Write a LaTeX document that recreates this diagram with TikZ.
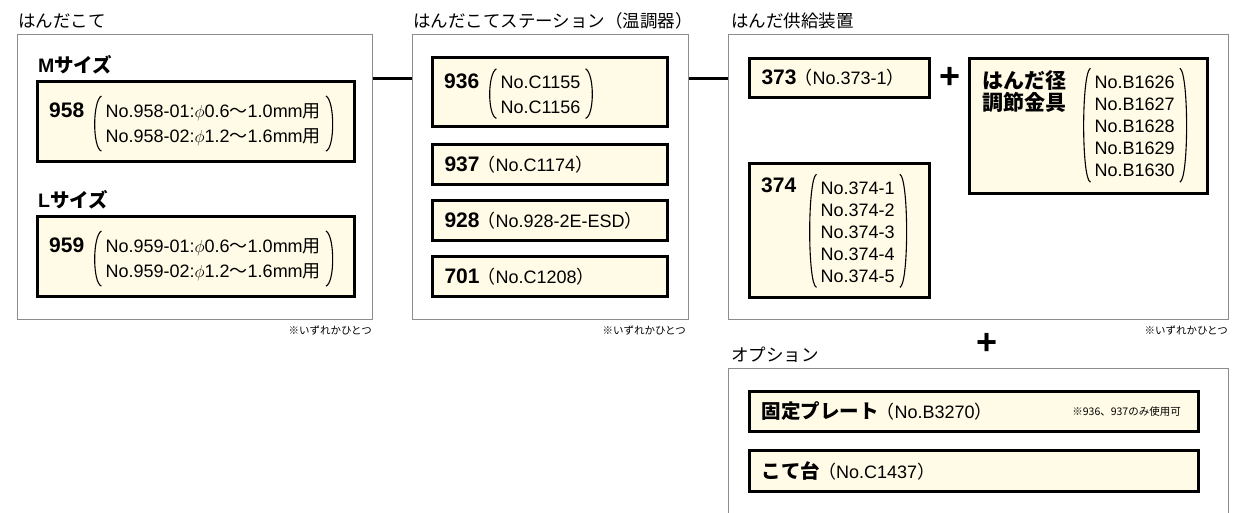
\documentclass[tikz,border=0pt]{standalone}
\usepackage{fontspec}
\setmainfont{Liberation Sans}
\newfontfamily\jp{Noto Sans CJK JP}
\usetikzlibrary{positioning}

\definecolor{cream}{HTML}{FFFBE6}
\definecolor{framegray}{HTML}{8C8C8C}

\newcommand{\jt}[1]{{\jp #1}}
\newcommand{\pnum}[1]{{\fontsize{21}{21}\selectfont\bfseries #1}\kern-2pt}
% round brackets drawn round a list node
\newcommand{\parens}[1]{%
  \draw[paren] ([shift={(-4pt,7pt)}]#1.north west)
    .. controls ([shift={(-13pt,2pt)}]#1.north west) and ([shift={(-13pt,-2pt)}]#1.south west)
    .. ([shift={(-4pt,-5pt)}]#1.south west);
  \draw[paren] ([shift={(5pt,7pt)}]#1.north east)
    .. controls ([shift={(14pt,2pt)}]#1.north east) and ([shift={(14pt,-2pt)}]#1.south east)
    .. ([shift={(5pt,-5pt)}]#1.south east);}

\tikzset{
  panel/.style={draw=framegray, line width=1pt, anchor=north west, inner sep=0pt},
  item/.style={draw, line width=3pt, fill=cream, anchor=north west, inner xsep=12pt,
    inner ysep=0pt, align=left, font=\fontsize{18}{22}\selectfont},
  title/.style={inner sep=0pt, font=\fontsize{17.5}{20}\selectfont\jp},
  head/.style={inner sep=0pt, font=\fontsize{19.5}{22}\selectfont\bfseries},
  num/.style={inner sep=0pt, font=\fontsize{21}{21}\selectfont\bfseries},
  list/.style={inner sep=0pt, align=left, font=\fontsize{18}{#1}\selectfont},
  note/.style={inner sep=0pt, font=\fontsize{10.5}{12}\selectfont\jp},
  paren/.style={line width=1.1pt},
  link/.style={line width=3pt},
  plus/.style={inner sep=0pt, font=\fontsize{36}{36}\selectfont\bfseries},
}

\begin{document}
\begin{tikzpicture}[x=1pt, y=-1pt]
  \useasboundingbox (0,0) rectangle (1233,512);

  % the four frames and their titles
  \node[panel, minimum width=355pt, minimum height=285pt] (solder) at (17,34) {};
  \node[panel, minimum width=276pt, minimum height=285pt] (station) at (412,34) {};
  \node[panel, minimum width=500pt, minimum height=285pt] (feeder) at (728,34) {};
  \node[panel, minimum width=500pt, minimum height=200pt] (option) at (728,368) {};
  \node[title, above right=5pt and 1pt of solder.north west] (tsolder) {はんだこて};
  \node[title, above right=5pt and 1pt of station.north west] (tstation) {はんだこてステーション（温調器）};
  \node[title, above right=5pt and 3pt of feeder.north west] (tfeeder) {はんだ供給装置};
  \node[title, above right=5pt and 3pt of option.north west] (toption) {オプション};
  \node[note, below left=6pt and 1pt of solder.south east] (nsolder) {※いずれかひとつ};
  \node[note, below left=6pt and 3pt of station.south east] (nstation) {※いずれかひとつ};
  \node[note, below left=6pt and 1pt of feeder.south east] (nfeeder) {※いずれかひとつ};

  % soldering irons
  \node[item, minimum width=317pt, minimum height=80pt] (b958) at (36,80) {};
  \node[head, anchor=base west] (hM) at ([shift={(2pt,8pt)}]b958.north west) {M\jt{サイズ}};
  \node[num, anchor=base west] (n958) at ([shift={(13pt,-37pt)}]b958.north west) {958};
  \node[list=25.5pt, anchor=base west] (l958) at ([shift={(21pt,-25.5pt)}]n958.base east)
    {No.958-01:$\phi$0.6\jt{〜}1.0mm\jt{用}\\No.958-02:$\phi$1.2\jt{〜}1.6mm\jt{用}};
  \parens{l958}
  \node[item, minimum width=317pt, minimum height=80pt] (b959) at (36,215) {};
  \node[head, anchor=base west] (hL) at ([shift={(2pt,8pt)}]b959.north west) {L\jt{サイズ}};
  \node[num, anchor=base west] (n959) at ([shift={(13pt,-37pt)}]b959.north west) {959};
  \node[list=25.5pt, anchor=base west] (l959) at ([shift={(21pt,-25.5pt)}]n959.base east)
    {No.959-01:$\phi$0.6\jt{〜}1.0mm\jt{用}\\No.959-02:$\phi$1.2\jt{〜}1.6mm\jt{用}};
  \parens{l959}

  % stations
  \node[item, minimum width=235pt, minimum height=69pt] (b936) at (431,56) {};
  \node[num, anchor=base west] (n936) at ([shift={(13pt,-32.5pt)}]b936.north west) {936};
  \node[list=24.5pt, anchor=base west] (l936) at ([shift={(21pt,-24.5pt)}]n936.base east) {No.C1155\\No.C1156};
  \parens{l936}
  \node[item, minimum width=235pt, minimum height=40pt, text width=211pt, below=15pt of b936] (b937)
    {\pnum{937}\jt{（}No.C1174\jt{）}};
  \node[item, minimum width=235pt, minimum height=40pt, text width=211pt, below=13pt of b937] (b928)
    {\pnum{928}\jt{（}No.928-2E-ESD\jt{）}};
  \node[item, minimum width=235pt, minimum height=40pt, text width=211pt, below=13pt of b928] (b701)
    {\pnum{701}\jt{（}No.C1208\jt{）}};

  % solder feeders
  \node[item, minimum width=180pt, minimum height=39pt, text width=156pt] (b373) at (748,57)
    {\pnum{373}\jt{（}No.373-1\jt{）}};
  \node[item, minimum width=180pt, minimum height=134pt] (b374) at (748,162) {};
  \node[num, anchor=base west] (n374) at ([shift={(13pt,-30pt)}]b374.north west) {374};
  \node[list=22pt, anchor=base west] (l374) at ([shift={(24pt,-90pt)}]n374.base east)
    {No.374-1\\No.374-2\\No.374-3\\No.374-4\\No.374-5};
  \parens{l374}
  \node[item, minimum width=238pt, minimum height=135pt] (bsz) at (968,57) {};
  \node[head, align=left, font=\fontsize{21}{22}\selectfont\bfseries\jp, anchor=base west] (hsz)
    at ([shift={(14pt,-53pt)}]bsz.north west) {はんだ径\\調節金具};
  \node[list=22.2pt, anchor=base west] (lsz) at ([shift={(28pt,-66.8pt)}]hsz.base east)
    {No.B1626\\No.B1627\\No.B1628\\No.B1629\\No.B1630};
  \parens{lsz}
  \path (b373.east) -- node[plus] (plus1) {+} (b373.east -| bsz.west);

  % options
  \node[item, minimum width=449pt, minimum height=40pt, text width=425pt] (bplate) at (748,390)
    {{\fontsize{19.5}{20}\selectfont\bfseries\jp 固定プレート}\kern-2pt\jt{（}No.B3270\jt{）}};
  \node[note, left=19pt of bplate.east] (nplate) {※936、937のみ使用可};
  \node[item, minimum width=449pt, minimum height=41pt, text width=425pt, below=16pt of bplate] (bstand)
    {{\fontsize{19.5}{20}\selectfont\bfseries\jp こて台}\kern-2pt\jt{（}No.C1437\jt{）}};
  \path ([xshift=8.5pt]feeder.south) -- node[plus] (plus2) {+} ([xshift=8.5pt]option.north);

  % links between the frames
  \draw[link] ([yshift=-44pt]solder.north east) -- ([yshift=-44pt]station.north west);
  \draw[link] ([yshift=-44pt]station.north east) -- ([yshift=-44pt]feeder.north west);
\end{tikzpicture}
\end{document}
